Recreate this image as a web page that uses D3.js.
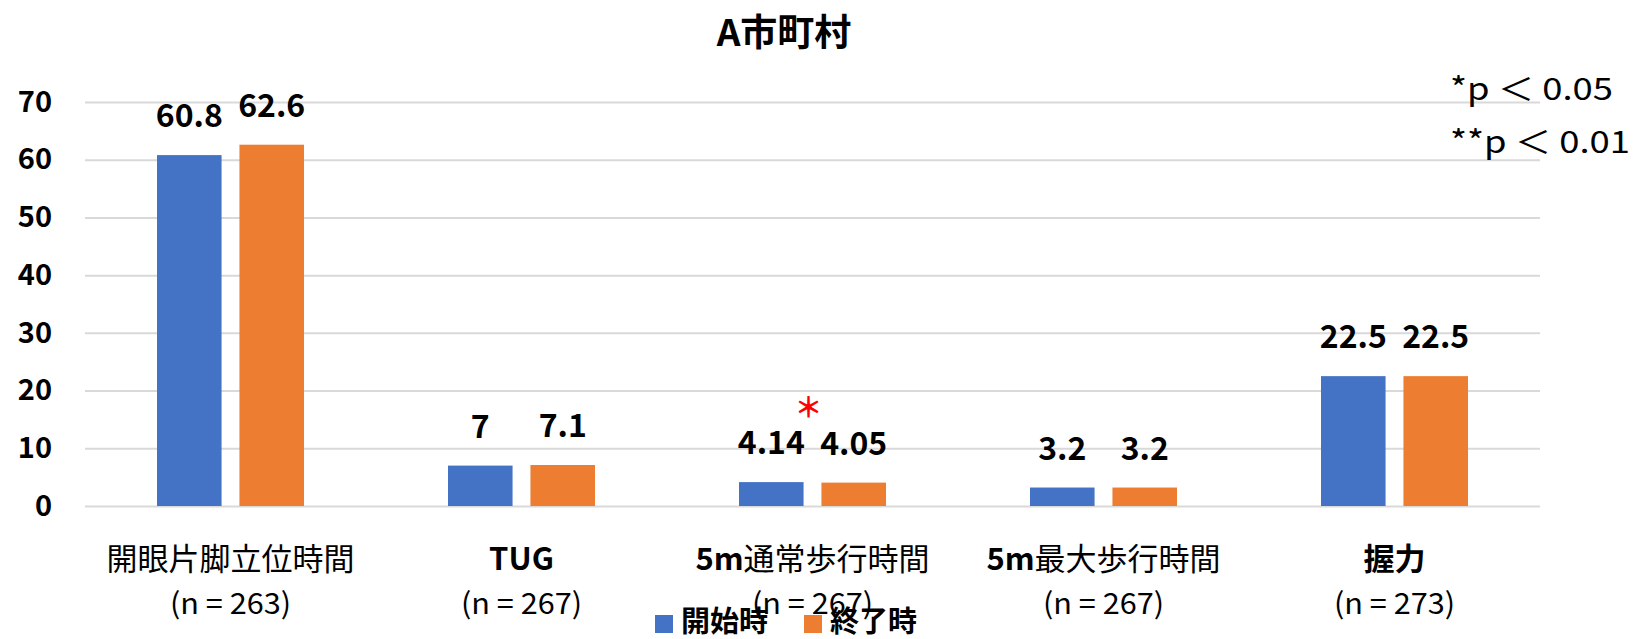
<!DOCTYPE html>
<html>
<head>
<meta charset="utf-8">
<script src="https://cdn.jsdelivr.net/npm/d3@7"></script>
<style>
  html, body { margin: 0; padding: 0; background: #fff; }
  svg { display: block; font-family: "Noto Sans CJK JP", "Noto Sans", sans-serif; }
</style>
</head>
<body>
<div id="viz"></div>
<script>
var categories = ["開眼片脚立位時間", "TUG", "5m通常歩行時間", "5m最大歩行時間", "握力"];
var counts = ["(n = 263)", "(n = 267)", "(n = 267)", "(n = 267)", "(n = 273)"];
var seriesNames = ["開始時", "終了時"];
var startValues = [60.8, 7, 4.14, 3.2, 22.5];
var endValues = [62.6, 7.1, 4.05, 3.2, 22.5];
var significant = [false, false, true, false, false];
var yTicks = [0, 10, 20, 30, 40, 50, 60, 70];
var notes = ["*p ＜ 0.05", "**p ＜ 0.01"];

var width = 1639,
    height = 639,
    colors = ["#4472C4", "#ED7D31"];

var svg = d3.select("#viz").append("svg")
  .attr("width", width)
  .attr("height", height);

var x0 = d3.scaleBand()
  .domain(categories)
  .range([85, 1540]);

var pair = 147;
var x1 = d3.scaleBand()
  .domain(seriesNames)
  .range([(x0.bandwidth() - pair) / 2, (x0.bandwidth() + pair) / 2])
  .paddingInner(0.217);

var y = d3.scaleLinear()
  .domain([0, 70])
  .range([506, 102]);

// title
svg.append("text")
  .attr("x", 784)
  .attr("y", 30)
  .attr("text-anchor", "middle")
  .attr("dominant-baseline", "central")
  .style("font-size", "37px")
  .style("font-weight", 700)
  .text("A市町村");

// gridlines + y labels
var yAxis = svg.append("g")
  .attr("transform", "translate(85,0)")
  .call(d3.axisLeft(y).tickValues(yTicks).tickSize(-(1540 - 85)).tickPadding(33));
yAxis.select(".domain").remove();
yAxis.selectAll(".tick line")
  .attr("stroke", "#d9d9d9")
  .attr("stroke-width", 2);
yAxis.selectAll(".tick text")
  .attr("fill", "#000")
  .style("font-size", "29px")
  .style("font-weight", 700)
  .style("font-family", "\"Noto Sans CJK JP\", sans-serif");

var rows = categories.map(function(c, i) {
  return { cat: c, values: [startValues[i], endValues[i]] };
});

var groups = svg.selectAll("g.group")
  .data(rows)
  .enter()
  .append("g")
    .attr("class", "group")
    .attr("transform", function(d) { return "translate(" + x0(d.cat) + ",0)"; });

groups.selectAll("rect")
  .data(function(d) { return d.values.map(function(v, j) { return { name: seriesNames[j], value: v, j: j }; }); })
  .enter()
  .append("rect")
    .attr("x", function(d) { return x1(d.name); })
    .attr("y", function(d) { return y(d.value); })
    .attr("width", x1.bandwidth())
    .attr("height", function(d) { return y(0) - y(d.value); })
    .attr("fill", function(d) { return colors[d.j]; });

groups.selectAll("text.val")
  .data(function(d) { return d.values.map(function(v, j) { return { name: seriesNames[j], value: v }; }); })
  .enter()
  .append("text")
    .attr("class", "val")
    .attr("x", function(d) { return x1(d.name) + x1.bandwidth() / 2; })
    .attr("y", function(d) { return y(d.value) - 28; })
    .attr("text-anchor", "middle")
    .style("font-size", "32px")
    .style("font-weight", 700)
    .text(function(d) { return d.value; });

// significance mark
groups.filter(function(d, i) { return significant[i]; })
  .append("text")
    .attr("x", x0.bandwidth() / 2 - 4)
    .attr("y", function(d) { return y(d3.max(d.values)) - 76; })
    .attr("text-anchor", "middle")
    .attr("dominant-baseline", "central")
    .attr("fill", "#ff0000")
    .style("font-size", "28px")
    .style("font-weight", 700)
    .text("＊");

// category labels, "5m" prefix drawn bold
var catLabel = groups.append("text")
  .attr("x", x0.bandwidth() / 2)
  .attr("y", 556)
  .attr("text-anchor", "middle")
  .attr("dominant-baseline", "central")
  .style("font-size", "31px");
catLabel.each(function(d, i) {
  var t = d3.select(this);
  if (d.cat.indexOf("5m") === 0) {
    t.append("tspan").style("font-weight", 700).text("5m");
    t.append("tspan").text(d.cat.slice(2));
  } else {
    t.style("font-weight", i === 0 ? 400 : 700).text(d.cat);
  }
});

groups.append("text")
  .attr("x", x0.bandwidth() / 2)
  .attr("y", 601)
  .attr("text-anchor", "middle")
  .attr("dominant-baseline", "central")
  .attr("textLength", 121)
  .attr("lengthAdjust", "spacingAndGlyphs")
  .style("font-size", "29px")
  .text(function(d, i) { return counts[i]; });

// legend
var legend = svg.append("g");
var legendX = [655, 804];
seriesNames.forEach(function(name, j) {
  legend.append("rect")
    .attr("x", legendX[j])
    .attr("y", 615)
    .attr("width", 18)
    .attr("height", 18)
    .attr("fill", colors[j]);
  legend.append("text")
    .attr("x", legendX[j] + 26)
    .attr("y", 619)
    .attr("dominant-baseline", "central")
    .style("font-size", "29px")
    .style("font-weight", 700)
    .text(name);
});

// p-value notes
svg.selectAll("text.note")
  .data(notes)
  .enter()
  .append("text")
    .attr("class", "note")
    .attr("x", 1450)
    .attr("y", function(d, i) { return 100 + i * 53; })
    .attr("textLength", function(d, i) { return i === 0 ? 163 : 180; })
    .attr("lengthAdjust", "spacingAndGlyphs")
    .style("font-size", "31px")
    .text(function(d) { return d; });
</script>
</body>
</html>
